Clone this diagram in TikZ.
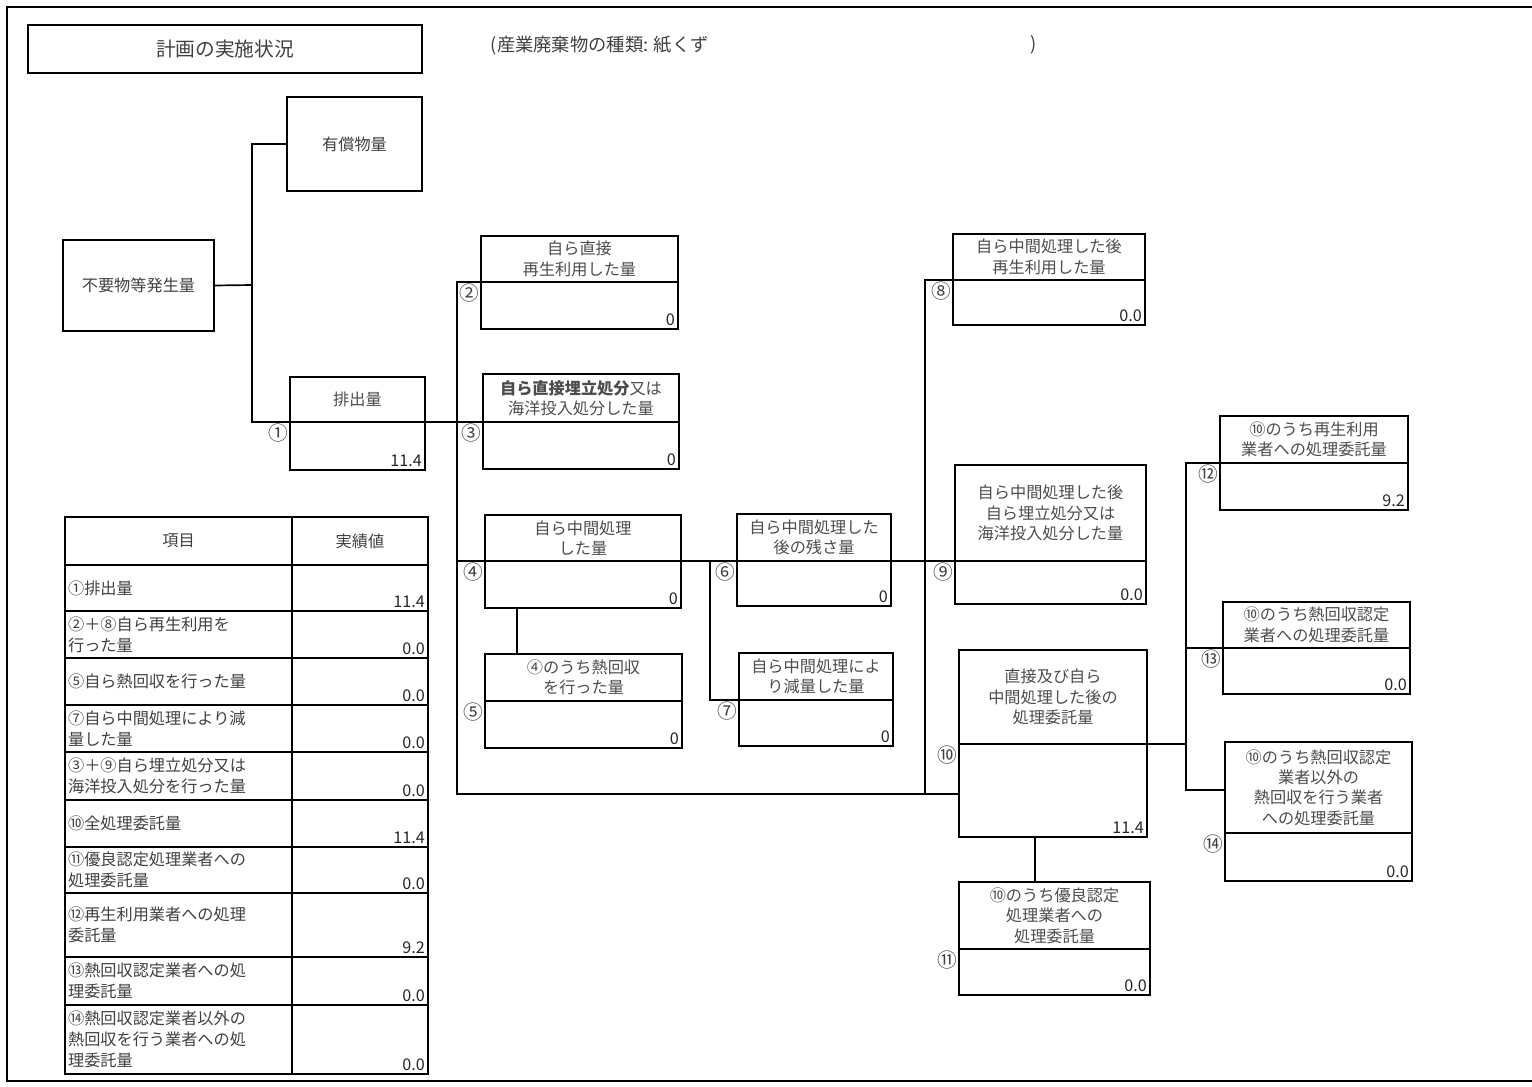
\documentclass[tikz,border=0pt]{standalone}
\usepackage{fontspec}
\setmainfont{Noto Sans CJK JP}
\usepackage{xcolor}
\tikzset{
    flow-head/.style = {draw, line width=1.2pt, rectangle, anchor=north west, inner sep=2pt, outer sep=0pt, align=center, text=black!70, font=\fontsize{11.5}{14.5}\selectfont},
    flow-value/.style = {draw, line width=1.2pt, rectangle, anchor=north west, inner sep=0pt, outer sep=0pt},
    value-text/.style = {anchor=south east, inner sep=2pt, text=black!85, font=\fontsize{11.5}{13}\selectfont},
    num-text/.style = {anchor=north east, inner sep=1pt, text=black!75, font=\fontsize{14}{15}\selectfont},
    title-box/.style = {draw, line width=1.2pt, rectangle, anchor=north west, outer sep=0pt, text=black!75, font=\fontsize{14}{16}\selectfont},
    table-cell/.style = {draw, line width=1.2pt, rectangle, anchor=north west, inner sep=0pt, outer sep=0pt, text=black!75, font=\fontsize{11.5}{14.5}\selectfont},
    table-text/.style = {anchor=west, inner sep=2pt, align=left, text=black!75, font=\fontsize{11.5}{15}\selectfont},
    link/.style = {line width=1.2pt},
}
% box with title part, value part and circled number
\newcommand{\flowbox}[9]{%
  \node[flow-head, minimum width={(#5-#2)*0.025cm}, minimum height={(#4-#3)*0.025cm}] (#1-head) at (#2,#3) {#7};
  \node[flow-value, minimum width={(#5-#2)*0.025cm}, minimum height={(#6-#4)*0.025cm},
        label={[value-text]south east:#8}, label={[num-text]north west:#9}] (#1-value) at (#2,#4) {};
}
% one row of the results table
\newcommand{\tablerow}[5]{%
  \node[table-cell, minimum width=227*0.025cm, minimum height={(#3-#2)*0.025cm}] (#1-item) at (65,#2) {};
  \node[table-text] at (#1-item.west) {#4};
  \node[table-cell, minimum width=136*0.025cm, minimum height={(#3-#2)*0.025cm}] (#1-result) at (292,#2) {};
  \node[value-text] at (#1-result.south east) {#5};
}

\begin{document}
\begin{tikzpicture}[x=0.025cm, y=-0.025cm]
\useasboundingbox (0,0) rectangle (1532,1086);
\draw[link] (1532,7) -- (7,7) -- (7,1081) -- (1532,1081);

\node[title-box, minimum width=394*0.025cm, minimum height=48*0.025cm] (plan) at (28,25) {計画の実施状況};
\node[anchor=west, text=black!75, font=\fontsize{13}{15}\selectfont] (kind) at (486,46) {(産業廃棄物の種類: 紙くず};
\node[text=black!75, font=\fontsize{13}{15}\selectfont] (kind-end) at (1034,45) {)};

\node[title-box, minimum width=135*0.025cm, minimum height=94*0.025cm, font=\fontsize{11.5}{14.5}\selectfont] (paid) at (287,97) {有償物量};
\node[title-box, minimum width=151*0.025cm, minimum height=91*0.025cm, font=\fontsize{11.5}{14.5}\selectfont] (waste) at (63,240) {不要物等発生量};

\flowbox{b1}{290}{377}{422}{425}{470}{排出量}{11.4}{①}
\flowbox{b2}{481}{236}{282}{678}{329}{自ら直接\\再生利用した量}{0}{②}
\flowbox{b3}{483}{374}{422}{679}{469}{{\bfseries 自ら直接埋立処分}又は\\海洋投入処分した量}{0}{③}
\flowbox{b4}{485}{515}{561}{681}{608}{自ら中間処理\\した量}{0}{④}
\flowbox{b5}{485}{654}{701}{682}{748}{④のうち熱回収\\を行った量}{0}{⑤}
\flowbox{b6}{737}{514}{561}{891}{606}{自ら中間処理した\\後の残さ量}{0}{⑥}
\flowbox{b7}{739}{653}{700}{893}{746}{自ら中間処理によ\\り減量した量}{0}{⑦}
\flowbox{b8}{953}{234}{280}{1145}{325}{自ら中間処理した後\\再生利用した量}{0.0}{⑧}
\flowbox{b9}{955}{465}{561}{1146}{604}{自ら中間処理した後\\自ら埋立処分又は\\海洋投入処分した量}{0.0}{⑨}
\flowbox{b10}{959}{650}{744}{1147}{837}{直接及び自ら\\中間処理した後の\\処理委託量}{11.4}{⑩}
\flowbox{b11}{959}{882}{949}{1150}{995}{⑩のうち優良認定\\処理業者への\\処理委託量}{0.0}{⑪}
\flowbox{b12}{1220}{416}{463}{1408}{510}{⑩のうち再生利用\\業者への処理委託量}{9.2}{⑫}
\flowbox{b13}{1223}{602}{648}{1410}{694}{⑩のうち熱回収認定\\業者への処理委託量}{0.0}{⑬}
\flowbox{b14}{1225}{742}{833}{1412}{881}{⑩のうち熱回収認定\\業者以外の\\熱回収を行う業者\\への処理委託量}{0.0}{⑭}

% connectors
\coordinate (split) at (252,285);
\draw[link] (waste.east) -- (split) |- (paid.west);
\draw[link] (split) |- (b3-value.north west);
\coordinate (rail-a) at (457,794);
\draw[link] (b2-value.north west) -| (rail-a) -- (rail-a -| b10-value.west);
\draw[link] (rail-a |- b4-value.north west) -- (b9-value.north west);
\coordinate (rail-b) at (710,561);
\draw[link] (rail-b) |- (b7-value.north west);
\coordinate (rail-c) at (925,794);
\draw[link] (b8-value.north west) -| (rail-c);
\draw[link] ([xshift=0.8cm]b4-value.south west) -- ([xshift=0.8cm]b5-head.north west);
\draw[link] ([xshift=1.9cm]b10-value.south west) -- ([xshift=1.9cm]b11-head.north west);
\coordinate (rail-d) at (1186,790);
\draw[link] (b12-value.north west) -| (rail-d) -- (rail-d -| b14-head.west);
\draw[link] (b13-value.north west) -- (b13-value.north west -| rail-d);
\draw[link] (b10-value.north east) -- (b10-value.north east -| rail-d);

% results table
\node[table-cell, minimum width=227*0.025cm, minimum height=48*0.025cm] (head-item) at (65,517) {項目};
\node[table-cell, minimum width=136*0.025cm, minimum height=48*0.025cm] (head-result) at (292,517) {実績値};
\tablerow{r1}{565}{611}{①排出量}{11.4}
\tablerow{r2}{611}{658}{②＋⑧自ら再生利用を\\行った量}{0.0}
\tablerow{r3}{658}{705}{⑤自ら熱回収を行った量}{0.0}
\tablerow{r4}{705}{752}{⑦自ら中間処理により減\\量した量}{0.0}
\tablerow{r5}{752}{800}{③＋⑨自ら埋立処分又は\\海洋投入処分を行った量}{0.0}
\tablerow{r6}{800}{847}{⑩全処理委託量}{11.4}
\tablerow{r7}{847}{893}{⑪優良認定処理業者への\\処理委託量}{0.0}
\tablerow{r8}{893}{957}{⑫再生利用業者への処理\\委託量}{9.2}
\tablerow{r9}{957}{1005}{⑬熱回収認定業者への処\\理委託量}{0.0}
\tablerow{r10}{1005}{1074}{⑭熱回収認定業者以外の\\熱回収を行う業者への処\\理委託量}{0.0}
\end{tikzpicture}
\end{document}
